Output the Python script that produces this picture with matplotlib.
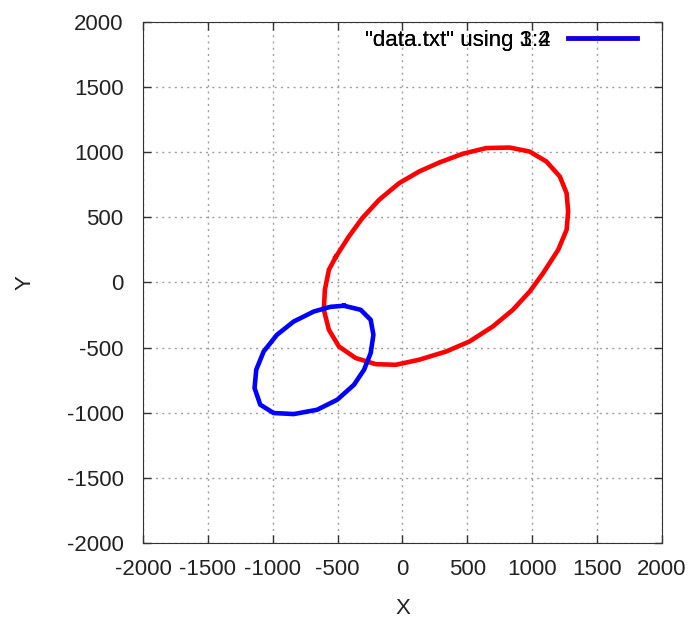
import matplotlib
matplotlib.use("Agg")
import matplotlib.pyplot as plt

# points, columns 1:2 and 3:4 of data.txt
x1 = [-515, -413, -310, -180, -26, 129, 284, 464, 645, 826, 981, 1110, 1213,
      1265, 1277, 1265, 1200, 1084, 981, 851, 697, 516, 336, 129, -51,
      -206, -361, -490, -567, -606, -598, -567, -515]
y1 = [195, 354, 495, 636, 764, 854, 923, 990, 1034, 1038, 1007, 930, 815,
      687, 546, 405, 251, 72, -69, -210, -338, -454, -531, -594, -633,
      -628, -581, -492, -364, -210, -56, 98, 195]

x2 = [-451, -322, -245, -224, -245, -296, -374, -503, -658, -838, -993,
      -1096, -1140, -1127, -1070, -967, -838, -683, -554, -451]
y2 = [-179, -210, -287, -402, -543, -671, -787, -902, -979, -1012, -1004,
      -940, -812, -671, -531, -402, -300, -223, -187, -179]

ticks = [-2000, -1500, -1000, -500, 0, 500, 1000, 1500, 2000]
labels = ['"data.txt" using 1:2', '"data.txt" using 3:4']

plt.rcParams['font.family'] = ['Liberation Sans', 'DejaVu Sans']
plt.rcParams['font.size'] = 16
plt.rcParams['axes.unicode_minus'] = False

fig = plt.figure(figsize=(6.92, 6.23), dpi=100)
ax = fig.add_axes([0.2066, 0.1292, 0.75, 0.8347])

l1, = ax.plot(x1, y1, color='#ff0000', lw=3.3, solid_joinstyle='round')
l2, = ax.plot(x2, y2, color='#0000ff', lw=3.3, solid_joinstyle='round')

ax.set_xlim(-2000, 2000)
ax.set_ylim(-2000, 2000)
ax.set_xticks(ticks)
ax.set_yticks(ticks)
ax.grid(True, color='#a0a0a0', linestyle=(0, (1.5, 3)), linewidth=1)
ax.tick_params(direction='in', length=6, width=1, top=True, right=True,
               colors='#333333', labelcolor='#222222')
ax.tick_params(axis='x', pad=12)
ax.tick_params(axis='y', pad=14)
for s in ax.spines.values():
    s.set_color('#333333')

ax.set_xlabel("X", color='#222222', labelpad=13)
ax.set_ylabel("Y", color='#222222', labelpad=22)

leg1 = ax.legend([l1], [labels[0]], loc='center right',
                 bbox_to_anchor=(0.952, 0.966), frameon=False, markerfirst=False,
                 handlelength=3.1, borderpad=0, borderaxespad=0, handletextpad=0.8)
ax.add_artist(leg1)
ax.legend([l2], [labels[1]], loc='center right',
          bbox_to_anchor=(0.952, 0.966), frameon=False, markerfirst=False,
          handlelength=3.1, borderpad=0, borderaxespad=0, handletextpad=0.8)

fig.savefig("out.png", dpi=100)
